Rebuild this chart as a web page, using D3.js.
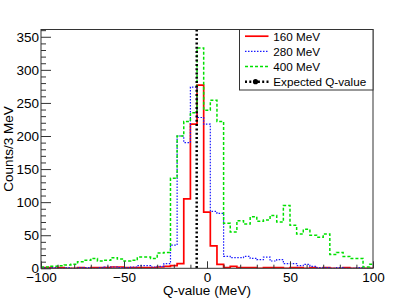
<!DOCTYPE html>
<html><head><meta charset="utf-8">
<script src="https://cdn.jsdelivr.net/npm/d3@7"></script>
<style>
html,body{margin:0;padding:0;background:#fff;}
svg{display:block;font-family:"Liberation Sans",Arial,Helvetica,sans-serif;}
</style></head>
<body>
<svg id="c" width="415" height="299"></svg>
<script>
// ---- data ----
const binCenters = [-100,-96,-92,-88,-84,-80,-76,-72,-68,-64,-60,-56,-52,-48,-44,-40,-36,-32,-28,-24,-20,-16,-12,-8,-4,0,4,8,12,16,20,24,28,32,36,40,44,48,52,56,60,64,68,72,76,80,84,88,92,96,100];
const binWidth = 4;
const counts160 = [0,1,0,1,0,0,1,0,1,1,1,2,2,1,1,1,1,1,2,3,4,7,105,218,277,85,34,6,1,3,1,1,1,0,1,1,1,0,1,1,0,1,0,1,0,0,1,0,0,0,0];
const counts280 = [1,0,1,0,1,0,1,1,0,1,2,2,1,1,2,4,4,2,3,7,35,200,190,274,228,218,86,83,18,16,16,18,15,13,17,11,13,7,7,4,6,3,1,1,0,1,0,0,1,0,0];
const counts400 = [2,2,3,4,5,6,10,12,15,11,12,16,14,11,12,17,17,15,23,24,136,200,222,235,333,239,254,222,68,55,72,67,78,71,73,80,70,95,65,52,59,50,47,52,21,24,18,15,15,2,6];
const seriesNames = ["160 MeV","280 MeV","400 MeV"];
const expectedQ = -6.2;
const legendLabels = ["160 MeV","280 MeV","400 MeV","Expected Q-value"];
const xMajorTicks = [-100,-50,0,50,100];
const xMinorTicks = [-90,-80,-70,-60,-40,-30,-20,-10,10,20,30,40,60,70,80,90];
const yMajorTicks = [0,50,100,150,200,250,300,350];
const yMinorTicks = [10,20,30,40,60,70,80,90,110,120,130,140,160,170,180,190,210,220,230,240,260,270,280,290,310,320,330,340,360];
const xDomain = [-100,100];
const yDomain = [0,361];

// ---- layout ----
const L=41, R=373, T=29.5, B=268.3;
const svg = d3.select("#c");
svg.append("rect").attr("width",415).attr("height",299).attr("fill","#fff");
const x = d3.scaleLinear().domain(xDomain).range([L,R]);
const y = d3.scaleLinear().domain(yDomain).range([B,T]);

svg.append("defs").append("clipPath").attr("id","fr")
  .append("rect").attr("x",L).attr("y",T).attr("width",R-L).attr("height",B-T);

const styles = [
  {color:"#ff0000", width:1.7, dash:null},
  {color:"#1a1aff", width:1.2, dash:"1.5,1.5"},
  {color:"#00e000", width:1.5, dash:"3,2"}
];
const allCounts = [counts160, counts280, counts400];

const line = d3.line().x(d=>x(d[0])).y(d=>y(d[1]));
const g = svg.append("g").attr("clip-path","url(#fr)");
allCounts.forEach((cnt,si)=>{
  const pts = [];
  binCenters.forEach((c,i)=>{
    const x0 = Math.max(c-binWidth/2, xDomain[0]);
    const x1 = Math.min(c+binWidth/2, xDomain[1]);
    pts.push([x0,cnt[i]]); pts.push([x1,cnt[i]]);
  });
  const st = styles[si];
  g.append("path").attr("d",line(pts)).attr("fill","none")
    .attr("stroke",st.color).attr("stroke-width",st.width)
    .attr("stroke-dasharray",st.dash);
});
// expected Q-value line
g.append("line").attr("x1",x(expectedQ)).attr("x2",x(expectedQ))
  .attr("y1",y(yDomain[1])).attr("y2",y(0))
  .attr("stroke","#000").attr("stroke-width",2.5).attr("stroke-dasharray","2,2.3");

// ---- axes ----
const fs = 13.5;
const xAx = svg.append("g").attr("transform",`translate(0,${B})`)
  .call(d3.axisBottom(x).tickValues(xMajorTicks).tickSizeInner(-7).tickSizeOuter(0).tickPadding(3.8).tickFormat(d=>d<0?"\u2212"+Math.abs(d):d));
xAx.select(".domain").remove();
xAx.selectAll("text").attr("font-size",fs).attr("fill","#000").attr("font-family","Liberation Sans, Arial, sans-serif");
xAx.selectAll("line").attr("stroke","#333");
const xMin = svg.append("g").attr("transform",`translate(0,${B})`)
  .call(d3.axisBottom(x).tickValues(xMinorTicks).tickSizeInner(-3.6).tickSizeOuter(0).tickFormat(""));
xMin.select(".domain").remove();
xMin.selectAll("line").attr("stroke","#333");

const yAx = svg.append("g").attr("transform",`translate(${L},0)`)
  .call(d3.axisLeft(y).tickValues(yMajorTicks).tickSizeInner(-10).tickSizeOuter(0).tickPadding(2));
yAx.select(".domain").remove();
yAx.selectAll("text").attr("font-size",fs).attr("fill","#000").attr("font-family","Liberation Sans, Arial, sans-serif");
yAx.selectAll("line").attr("stroke","#333");
const yMin = svg.append("g").attr("transform",`translate(${L},0)`)
  .call(d3.axisLeft(y).tickValues(yMinorTicks).tickSizeInner(-5).tickSizeOuter(0).tickFormat(""));
yMin.select(".domain").remove();
yMin.selectAll("line").attr("stroke","#333");

// frame
svg.append("rect").attr("x",L).attr("y",T).attr("width",R-L).attr("height",B-T)
  .attr("fill","none").attr("stroke","#333").attr("stroke-width",1);

// titles
svg.append("text").attr("x",(L+R)/2).attr("y",295.3).attr("text-anchor","middle")
  .attr("font-size",fs).text("Q-value (MeV)");
svg.append("text").attr("transform",`translate(13.3,${(T+B)/2}) rotate(-90)`)
  .attr("text-anchor","middle").attr("font-size",fs).text("Counts/3 MeV");

// ---- legend ----
const lg = svg.append("g");
lg.append("rect").attr("x",239.5).attr("y",T).attr("width",R-239.5).attr("height",90-T)
  .attr("fill","#fff").attr("stroke","#333").attr("stroke-width",1);
const rowBase = [40.5,55.7,70.8,86];
legendLabels.forEach((lab,i)=>{
  const cy = rowBase[i]-4.3;
  if(i<3){
    const st = styles[i];
    lg.append("line").attr("x1",245).attr("x2",268.5).attr("y1",cy).attr("y2",cy)
      .attr("stroke",st.color).attr("stroke-width",st.width).attr("stroke-dasharray",st.dash);
  } else {
    lg.append("line").attr("x1",245).attr("x2",268.5).attr("y1",cy).attr("y2",cy)
      .attr("stroke","#000").attr("stroke-width",2.5).attr("stroke-dasharray","2,2.3");
    lg.append("circle").attr("cx",255.5).attr("cy",cy).attr("r",2.6).attr("fill","#000");
  }
  lg.append("text").attr("x",273.3).attr("y",rowBase[i]).attr("font-size",11.7).text(lab);
});
</script>
</body></html>
